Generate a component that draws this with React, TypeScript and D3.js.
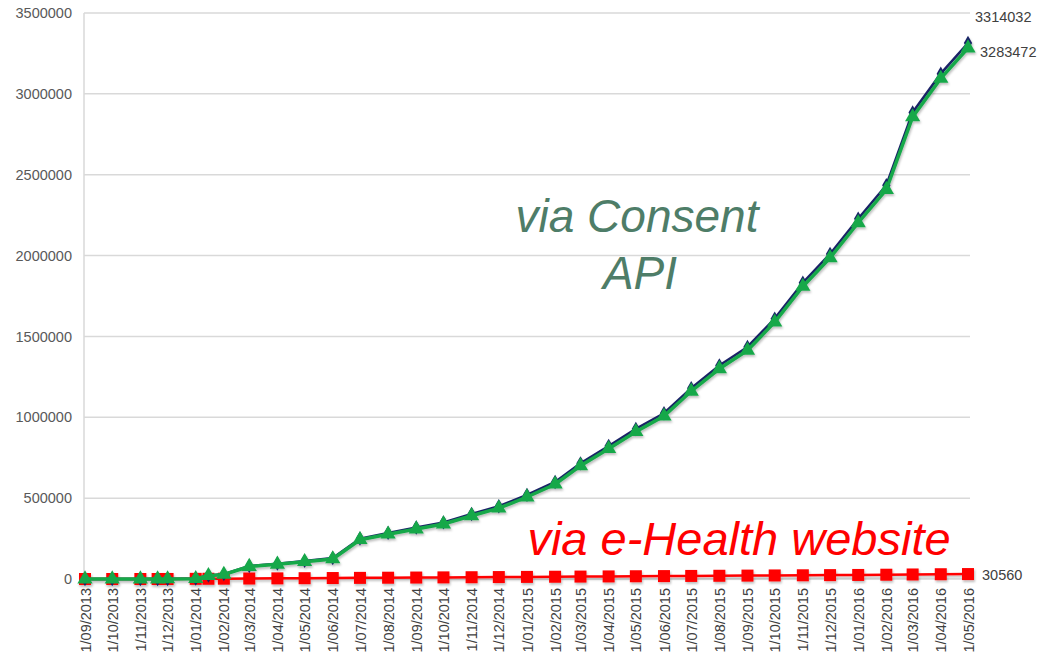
import * as d3 from "d3";
import { useEffect, useRef } from "react";

// dates of the data points (two extra mid-month points at the start)
const dates = [
  "2013-09-01", "2013-10-01", "2013-11-01", "2013-11-20", "2013-12-01",
  "2014-01-01", "2014-01-15", "2014-02-01", "2014-03-01", "2014-04-01",
  "2014-05-01", "2014-06-01", "2014-07-01", "2014-08-01", "2014-09-01",
  "2014-10-01", "2014-11-01", "2014-12-01", "2015-01-01", "2015-02-01",
  "2015-03-01", "2015-04-01", "2015-05-01", "2015-06-01", "2015-07-01",
  "2015-08-01", "2015-09-01", "2015-10-01", "2015-11-01", "2015-12-01",
  "2016-01-01", "2016-02-01", "2016-03-01", "2016-04-01", "2016-05-01",
];

// total registrations
const total = [
  0, 0, 0, 0, 500, 3000, 22000, 30000, 80000, 95000,
  112000, 130000, 250000, 285000, 318000, 350000, 402000, 450000, 520000, 600000,
  715000, 822000, 928000, 1025000, 1180000, 1320000, 1435000, 1610000, 1832000, 2010000,
  2228000, 2435000, 2885000, 3125000, 3314032,
];

// via Consent API
const viaApi = [
  0, 0, 0, 0, 300, 2000, 20500, 28000, 77000, 91000,
  107000, 124000, 243000, 277000, 309000, 340000, 391000, 438000, 507000, 586000,
  700000, 806000, 911000, 1007000, 1161000, 1300000, 1414000, 1588000, 1809000, 1986000,
  2203000, 2408500, 2857000, 3095500, 3283472,
];

// via e-Health website
const viaWebsite = [
  0, 0, 0, 0, 200, 1000, 1500, 2000, 3000, 4000,
  5000, 6000, 7000, 8000, 9000, 10000, 11000, 12000, 13000, 14000,
  15000, 16000, 17000, 18000, 19000, 20000, 21000, 22000, 23000, 24000,
  25000, 26500, 28000, 29500, 30560,
];

const yTicks = [0, 500000, 1000000, 1500000, 2000000, 2500000, 3000000, 3500000];

const App = () => {
  const chartRef = useRef(null);

  useEffect(() => {
    const svg = d3.select(chartRef.current);
    svg.selectAll("*").remove();

    const width = 1052;
    const height = 656;
    const left = 85;
    const right = 968;
    const top = 13;
    const bottom = 579;
    const font = "'Liberation Sans', Arial, sans-serif";

    const parse = d3.timeParse("%Y-%m-%d");
    const xs = dates.map(d => parse(d));

    const x = d3.scaleTime()
      .domain([xs[0], xs[xs.length - 1]])
      .range([left, right]);
    const y = d3.scaleLinear().domain([0, 3500000]).range([bottom, top]);

    svg.attr("width", width).attr("height", height);

    const defs = svg.append("defs");
    defs.append("filter")
      .attr("id", "shadow")
      .attr("x", "-5%").attr("y", "-5%").attr("width", "110%").attr("height", "120%")
      .append("feDropShadow")
      .attr("dx", 1).attr("dy", 2).attr("stdDeviation", 1)
      .attr("flood-color", "#000").attr("flood-opacity", 0.25);

    svg.append("rect").attr("width", width).attr("height", height).attr("fill", "#fff");

    // gridlines
    svg.append("g")
      .selectAll("line")
      .data(yTicks)
      .enter()
      .append("line")
      .attr("x1", left - 1)
      .attr("x2", right + 2)
      .attr("y1", d => y(d))
      .attr("y2", d => y(d))
      .attr("stroke", "#d9d9d9")
      .attr("stroke-width", 1.5);

    svg.append("line")
      .attr("x1", left - 1).attr("x2", left - 1)
      .attr("y1", top).attr("y2", bottom)
      .attr("stroke", "#d9d9d9").attr("stroke-width", 1.5);

    // y axis labels
    const yAxis = svg.append("g")
      .attr("transform", `translate(${left - 1},0)`)
      .call(d3.axisLeft(y).tickValues(yTicks).tickSize(0).tickPadding(12).tickFormat(d3.format("d")));
    yAxis.select(".domain").remove();
    yAxis.selectAll("text")
      .attr("font-family", font)
      .attr("font-size", 14.5)
      .attr("fill", "#595959");

    // x axis labels
    const xAxis = svg.append("g")
      .attr("transform", `translate(0,${bottom})`)
      .call(d3.axisBottom(x)
        .ticks(d3.timeMonth.every(1))
        .tickSize(0)
        .tickFormat(d3.timeFormat("%-d/%m/%Y")));
    xAxis.select(".domain").remove();
    xAxis.selectAll("text")
      .attr("transform", "rotate(-90)")
      .attr("x", -9)
      .attr("y", 0)
      .attr("dy", "0.35em")
      .style("text-anchor", "end")
      .attr("font-family", font)
      .attr("font-size", 14.5)
      .attr("fill", "#404040");

    const line = d3.line()
      .x((d, i) => x(xs[i]))
      .y(d => y(d));

    const series = svg.append("g").attr("filter", "url(#shadow)");

    // website (red squares)
    series.append("path")
      .datum(viaWebsite)
      .attr("d", line)
      .attr("fill", "none")
      .attr("stroke", "#ff0000")
      .attr("stroke-width", 2.5);
    series.selectAll(".web-dot")
      .data(viaWebsite)
      .enter()
      .append("rect")
      .attr("class", "web-dot")
      .attr("x", (d, i) => x(xs[i]) - 6)
      .attr("y", d => y(d) - 6)
      .attr("width", 12)
      .attr("height", 12)
      .attr("fill", "#ff0000");

    // total (navy diamonds)
    series.append("path")
      .datum(total)
      .attr("d", line)
      .attr("fill", "none")
      .attr("stroke", "#1a2366")
      .attr("stroke-width", 2.5);
    series.selectAll(".total-dot")
      .data(total)
      .enter()
      .append("path")
      .attr("class", "total-dot")
      .attr("d", d3.symbol().type(d3.symbolDiamond).size(60))
      .attr("transform", (d, i) => `translate(${x(xs[i])},${y(d)})`)
      .attr("fill", "#1a2366");

    // consent API (green triangles)
    series.append("path")
      .datum(viaApi)
      .attr("d", line)
      .attr("fill", "none")
      .attr("stroke", "#18a84a")
      .attr("stroke-width", 3.5);
    series.selectAll(".api-dot")
      .data(viaApi)
      .enter()
      .append("path")
      .attr("class", "api-dot")
      .attr("d", d3.symbol().type(d3.symbolTriangle).size(100))
      .attr("transform", (d, i) => `translate(${x(xs[i])},${y(d)})`)
      .attr("fill", "#18a84a");

    // end labels
    const last = xs.length - 1;
    const endLabels = [
      { v: total[last], dx: 7, dy: -26 },
      { v: viaApi[last], dx: 12, dy: 4 },
      { v: viaWebsite[last], dx: 14, dy: 1 },
    ];
    svg.append("g")
      .selectAll("text")
      .data(endLabels)
      .enter()
      .append("text")
      .attr("x", d => x(xs[last]) + d.dx)
      .attr("y", d => y(d.v) + d.dy)
      .attr("dy", "0.35em")
      .attr("font-family", font)
      .attr("font-size", 14.5)
      .attr("fill", "#404040")
      .text(d => d.v);

    // annotations
    svg.append("text")
      .attr("x", 637)
      .attr("y", 232)
      .attr("text-anchor", "middle")
      .attr("font-family", font)
      .attr("font-style", "italic")
      .attr("font-size", 46)
      .attr("fill", "#4e7d68")
      .text("via Consent");
    svg.append("text")
      .attr("x", 640)
      .attr("y", 289)
      .attr("text-anchor", "middle")
      .attr("font-family", font)
      .attr("font-style", "italic")
      .attr("font-size", 46)
      .attr("fill", "#4e7d68")
      .text("API");
    svg.append("text")
      .attr("x", 739)
      .attr("y", 555)
      .attr("text-anchor", "middle")
      .attr("font-family", font)
      .attr("font-style", "italic")
      .attr("font-size", 47)
      .attr("fill", "#ff0000")
      .text("via e-Health website");
  }, []);

  return (
    <svg
      ref={chartRef}
      width="1052"
      height="656"
      style={{ position: "absolute", left: 0, top: 0 }}
    ></svg>
  );
};

export default App;
